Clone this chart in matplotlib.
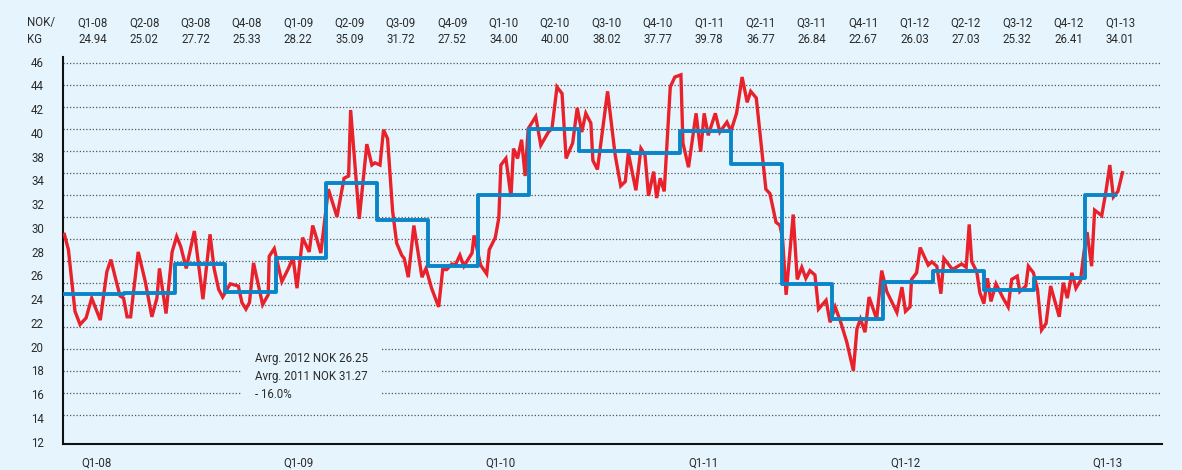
import matplotlib.pyplot as plt
import numpy as np

plt.rcParams['font.family'] = ['Roboto', 'DejaVu Sans']

# quarterly average salmon price, NOK/kg (header table)
quarters = ['Q1-08', 'Q2-08', 'Q3-08', 'Q4-08', 'Q1-09', 'Q2-09', 'Q3-09', 'Q4-09',
            'Q1-10', 'Q2-10', 'Q3-10', 'Q4-10', 'Q1-11', 'Q2-11', 'Q3-11', 'Q4-11',
            'Q1-12', 'Q2-12', 'Q3-12', 'Q4-12', 'Q1-13']
q_avg = [24.94, 25.02, 27.72, 25.33, 28.22, 35.09, 31.72, 27.52,
         34.00, 40.00, 38.02, 37.77, 39.78, 36.77, 26.84, 22.67,
         26.03, 27.03, 25.32, 26.41, 34.01]
# levels of the blue steps as drawn in the chart (Q3-11 sits lower than its label)
step_avg = [24.94, 25.02, 27.72, 25.15, 28.22, 35.09, 31.72, 27.52,
            34.00, 40.00, 38.02, 37.77, 39.78, 36.77, 25.85, 22.67,
            26.03, 27.03, 25.32, 26.41, 34.01]
q1_13_end = 20.6   # data for Q1-13 runs only part of the quarter

# weekly spot price (time in quarters since start of 2008)
week_t = [-0.18, -0.10, 0.03, 0.13, 0.25, 0.36, 0.53, 0.66, 0.74, 0.82, 0.92, 0.99,
          1.06, 1.13, 1.28, 1.42, 1.55, 1.65, 1.70, 1.83, 1.95, 2.04, 2.12, 2.23,
          2.39, 2.47, 2.56, 2.70, 2.78, 2.87, 2.95, 3.10, 3.26, 3.33, 3.41, 3.48,
          3.56, 3.74, 3.85, 3.87, 3.97,
          4.12, 4.25, 4.34, 4.42, 4.53, 4.66, 4.73, 4.81, 4.89, 5.04, 5.21, 5.35,
          5.44, 5.48, 5.65, 5.80, 5.90, 5.96, 6.06, 6.13, 6.21, 6.31, 6.39, 6.49,
          6.54, 6.62, 6.73, 6.89, 6.97, 7.08, 7.22, 7.30, 7.38, 7.48, 7.55, 7.64,
          7.72, 7.88, 7.92,
          8.05, 8.17, 8.22, 8.34, 8.41, 8.45, 8.55, 8.65, 8.70, 8.78, 8.86, 8.93,
          8.99, 9.14, 9.24, 9.39, 9.46, 9.56, 9.66, 9.74, 9.87, 9.96, 10.05, 10.13,
          10.23, 10.27, 10.36, 10.56, 10.71, 10.82, 10.91, 10.97, 11.12, 11.22,
          11.30, 11.37, 11.47, 11.53, 11.60, 11.68, 11.80, 11.89,
          12.01, 12.05, 12.16, 12.31, 12.40, 12.47, 12.55, 12.69, 12.78, 12.92,
          13.00, 13.11, 13.22, 13.32, 13.39, 13.50, 13.69, 13.77, 13.89, 13.97,
          14.02, 14.09, 14.23, 14.31, 14.40, 14.48, 14.56, 14.66, 14.73, 14.88,
          14.96, 15.06, 15.17, 15.29, 15.42, 15.49, 15.56, 15.65, 15.73, 15.88, 15.98,
          16.08, 16.28, 16.38, 16.45, 16.54, 16.57, 16.67, 16.74, 16.90, 16.97,
          17.07, 17.15, 17.21, 17.38, 17.56, 17.65, 17.71, 17.76, 17.86, 17.92,
          18.00, 18.07, 18.14, 18.24, 18.38, 18.48, 18.55, 18.66, 18.71, 18.83,
          18.88, 18.98, 19.06, 19.14, 19.23, 19.32, 19.49, 19.57, 19.65, 19.74,
          19.82, 19.91, 19.98,
          20.04, 20.13, 20.19, 20.33, 20.41, 20.49, 20.56, 20.65, 20.74]
week_price = [30.4, 29.0, 23.4, 22.2, 22.8, 24.6, 22.6, 27.0, 28.1, 26.6, 24.8, 24.6,
              22.9, 22.9, 28.8, 26.1, 22.9, 24.6, 27.3, 23.2, 28.8, 30.2, 29.3, 27.3,
              30.7, 27.8, 24.5, 30.4, 27.3, 25.4, 24.7, 25.9, 25.7, 24.2, 23.6, 24.2,
              27.8, 24.0, 24.9, 28.4, 29.1,
              26.1, 27.3, 28.3, 25.5, 30.1, 28.8, 31.2, 30.0, 28.7, 34.5, 32.0, 35.5,
              35.7, 41.7, 31.8, 38.6, 36.7, 36.9, 36.7, 39.9, 39.1, 32.5, 29.6, 28.5,
              28.2, 26.5, 31.2, 26.5, 27.3, 25.5, 23.8, 27.2, 27.2, 27.7, 27.6, 28.5,
              27.5, 28.7, 30.3,
              27.6, 26.8, 29.0, 30.1, 31.9, 36.7, 37.3, 33.8, 38.2, 37.3, 39.0, 35.7,
              40.0, 41.1, 38.5, 39.7, 40.0, 43.8, 43.2, 37.3, 38.7, 41.9, 39.7, 41.4,
              40.5, 37.1, 36.3, 43.4, 37.6, 34.8, 35.2, 37.8, 34.4, 38.2,
              37.6, 33.9, 36.1, 33.7, 35.5, 34.3, 43.8, 44.7,
              44.9, 38.7, 36.5, 41.4, 37.9, 41.4, 39.4, 41.4, 39.7, 40.6,
              39.8, 41.4, 44.7, 42.4, 43.4, 42.8, 34.5, 34.1, 31.5, 31.2,
              30.0, 24.9, 32.2, 26.3, 27.4, 26.4, 27.1, 26.7, 23.6, 24.4,
              22.4, 23.8, 22.4, 20.6, 18.0, 21.8, 22.7, 21.5, 24.7, 22.7, 27.1,
              25.2, 23.3, 25.6, 23.4, 23.8, 26.3, 26.9, 29.2, 27.6, 27.9,
              27.5, 25.0, 28.2, 27.2, 27.7, 27.4, 31.3, 27.9, 27.0, 25.1,
              24.1, 26.4, 24.3, 25.9, 24.6, 23.8, 26.3, 26.6, 25.2, 25.7,
              27.5, 26.9, 25.4, 21.7, 22.3, 25.7, 22.9, 26.0, 24.6, 26.9,
              25.5, 26.2, 28.8,
              30.6, 27.5, 32.6, 32.1, 34.2, 36.7, 33.8, 34.3, 36.0]

# y labels as printed on the original (no "36")
ytick_labels = ['46', '44', '42', '40', '38', '34', '32', '30', '28', '26',
                '24', '22', '20', '18', '16', '14', '12']
year_labels = ['Q1-08', 'Q1-09', 'Q1-10', 'Q1-11', 'Q1-12', 'Q1-13']
note = 'Avrg. 2012 NOK 26.25\nAvrg. 2011 NOK 31.27\n- 16.0%'

bg = '#E6F5FD'
red = '#E8212B'
blue = '#0B85C8'
txt = '#2B2B2B'
fs = 8.3

fig = plt.figure(figsize=(11.82, 4.70), dpi=100)
fig.patch.set_facecolor(bg)
ax = fig.add_axes([0.0536, 0.0547, 0.9294, 0.8247])
ax.set_facecolor(bg)

x_left, x_right = -0.2, 21.52
ax.set_xlim(x_left, x_right)
ax.set_ylim(11.31, 46.55)

# red weekly line
ax.plot(week_t, week_price, color=red, linewidth=2.4, zorder=3,
        solid_joinstyle='miter')

# blue quarterly average steps
edges = [x_left] + list(range(1, len(step_avg))) + [q1_13_end]
ax.step(edges, step_avg + [step_avg[-1]], where='post', color=blue,
        linewidth=2.8, zorder=4)

# dotted gridlines at real values
ax.set_yticks(np.arange(14, 47, 2), minor=True)
ax.grid(which='minor', axis='y', color='#555555', linestyle=(0, (1, 1.6)),
        linewidth=0.9)
ax.set_axisbelow(True)

# y labels spread evenly like in the original
ax.set_yticks(np.linspace(46.09, 11.55, len(ytick_labels)))
ax.set_yticklabels(ytick_labels)
ax.tick_params(axis='y', which='both', length=0, pad=14, labelsize=fs,
               labelcolor=txt)

ax.set_xticks([4 * i + 0.45 for i in range(len(year_labels))])
ax.set_xticklabels(year_labels)
ax.tick_params(axis='x', length=0, pad=9, labelsize=fs, labelcolor=txt)

for s in ['top', 'right']:
    ax.spines[s].set_visible(False)
for s in ['left', 'bottom']:
    ax.spines[s].set_linewidth(1.5)
    ax.spines[s].set_color('#111111')

# note box
ax.text(3.59, 19.7, note, fontsize=fs, color=txt, va='top', ha='left',
        linespacing=1.5, zorder=5,
        bbox=dict(boxstyle='square,pad=1.1', facecolor=bg, edgecolor='none'))

# header table of quarter averages
fig.text(27 / 1182, 0.9517, 'NOK/', fontsize=fs, color=txt, va='center', ha='left')
fig.text(27 / 1182, 0.9149, 'KG', fontsize=fs, color=txt, va='center', ha='left')
hx = np.linspace(92.7 / 1182, 1120 / 1182, len(quarters))
for x, q, v in zip(hx, quarters, q_avg):
    fig.text(x, 0.9517, q, fontsize=fs, color=txt, va='center', ha='center')
    fig.text(x, 0.9149, f'{v:.2f}', fontsize=fs, color=txt, va='center', ha='center')

fig.savefig('out.png', dpi=100, facecolor=bg)
